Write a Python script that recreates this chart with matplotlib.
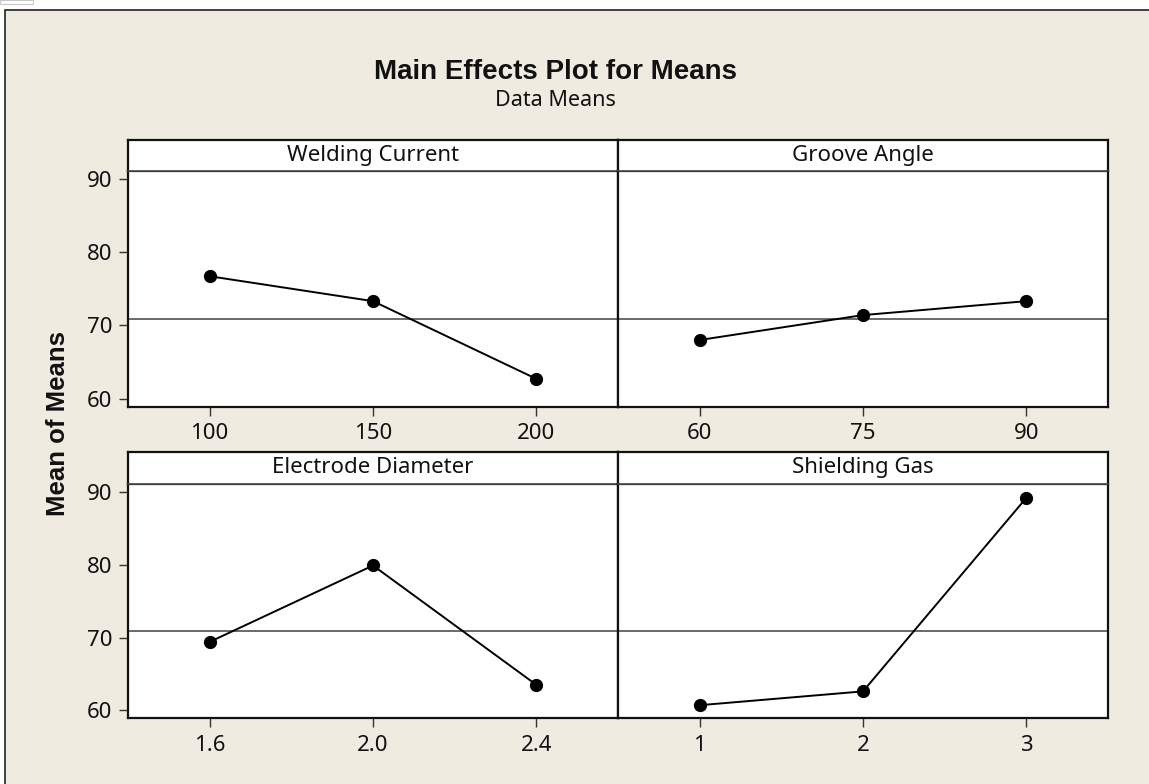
import matplotlib
matplotlib.use("Agg")
import matplotlib.pyplot as plt
from matplotlib.patches import Rectangle

# ---- data ----
factors = ["Welding Current", "Groove Angle", "Electrode Diameter", "Shielding Gas"]
levels_wc = ["100", "150", "200"]
levels_ga = ["60", "75", "90"]
levels_ed = ["1.6", "2.0", "2.4"]
levels_sg = ["1", "2", "3"]
means_wc = [76.7, 73.3, 62.7]
means_ga = [68.0, 71.4, 73.3]
means_ed = [69.4, 79.9, 63.5]
means_sg = [60.7, 62.6, 89.2]
grand_mean = 70.85
y_ticks = [60, 70, 80, 90]

W, H = 1149, 784
fig = plt.figure(figsize=(W / 100, H / 100), dpi=100, facecolor="white")

BG = "#efebe1"
TICK_FONT = "Noto Sans"
BOLD_FONT = "DejaVu Sans"

# outer frame
frame = Rectangle((5 / W, -0.05), 1.1, 1 - 10 / H + 0.05, transform=fig.transFigure,
                  facecolor=BG, edgecolor="#222222", linewidth=1.2, zorder=-10)
fig.add_artist(frame)
tab = Rectangle((0, 1 - 4 / H), 33 / W, 4 / H, transform=fig.transFigure,
                facecolor="white", edgecolor="#c8c8c8", linewidth=0.8, zorder=-9)
fig.add_artist(tab)

renderer = fig.canvas.get_renderer()

def fit_text(t, target_px):
    bb = t.get_window_extent(renderer=renderer)
    t.set_fontsize(t.get_fontsize() * target_px / bb.width)

def px(x0, y0, x1, y1):
    return [x0 / W, 1 - y1 / H, (x1 - x0) / W, (y1 - y0) / H]

cols = [(128, 618), (618, 1108)]
rows = [((140, 170.7), (170.7, 406.7)), ((451.7, 484), (484, 718.3))]
strip_widths = [172, 133, 212, 152]

panels = [
    (factors[0], levels_wc, means_wc),
    (factors[1], levels_ga, means_ga),
    (factors[2], levels_ed, means_ed),
    (factors[3], levels_sg, means_sg),
]

strip_size = None
for i, (name, levels, means) in enumerate(panels):
    r, c = divmod(i, 2)
    (sy0, sy1), (py0, py1) = rows[r]
    x0, x1 = cols[c]
    ax = fig.add_axes(px(x0, py0, x1, py1))
    ax.set_facecolor("white")
    xs = list(range(1, len(levels) + 1))
    ax.axhline(grand_mean, color="#505050", linewidth=1.2, zorder=1)
    ax.plot(xs, means, color="black", linewidth=1.4, marker="o", markersize=8.5,
            markerfacecolor="black", markeredgecolor="black", zorder=3)
    ax.set_xlim(0.5, 3.5)
    ax.set_ylim(58.9, 91.1)
    ax.set_xticks(xs)
    ax.set_xticklabels(levels, fontsize=16, family=TICK_FONT, color="#111111")
    ax.tick_params(axis="x", direction="out", length=6.7, width=1.0, pad=5, color="#333333")
    if c == 0:
        ax.set_yticks(y_ticks)
        ax.set_yticklabels([str(v) for v in y_ticks], fontsize=16, family=TICK_FONT, color="#111111")
        ax.tick_params(axis="y", direction="out", length=6.5, width=1.0, pad=5, color="#333333")
    else:
        ax.set_yticks([])
    for s in ax.spines.values():
        s.set_linewidth(1.6)
        s.set_color("#111111")

    sax = fig.add_axes(px(x0, sy0, x1, sy1))
    sax.set_facecolor("white")
    sax.set_xticks([])
    sax.set_yticks([])
    for s in sax.spines.values():
        s.set_linewidth(1.6)
        s.set_color("#111111")
    sax.spines["bottom"].set_linewidth(1.2)
    sax.spines["bottom"].set_color("#444444")
    st = sax.text(0.5, 0.5, name, transform=sax.transAxes, ha="center", va="center",
                  fontsize=16, family=TICK_FONT, color="#111111")
    if strip_size is None:
        fit_text(st, strip_widths[0])
        strip_size = st.get_fontsize()
    else:
        st.set_fontsize(strip_size)

title = fig.text(555 / W, 1 - 72 / H, "Main Effects Plot for Means", ha="center", va="center",
                 fontsize=20, fontweight="bold", family="Liberation Sans", color="#111111")
sub = fig.text(555 / W, 1 - 101 / H, "Data Means", ha="center", va="center",
               fontsize=15.5, family=TICK_FONT, color="#111111")
fig.text(58 / W, 1 - 424 / H, "Mean of Means", ha="center", va="center", rotation=90,
         fontsize=18.5, fontweight="bold", family="Liberation Sans", color="#111111")

fig.savefig("out.png", dpi=100, facecolor="white")
